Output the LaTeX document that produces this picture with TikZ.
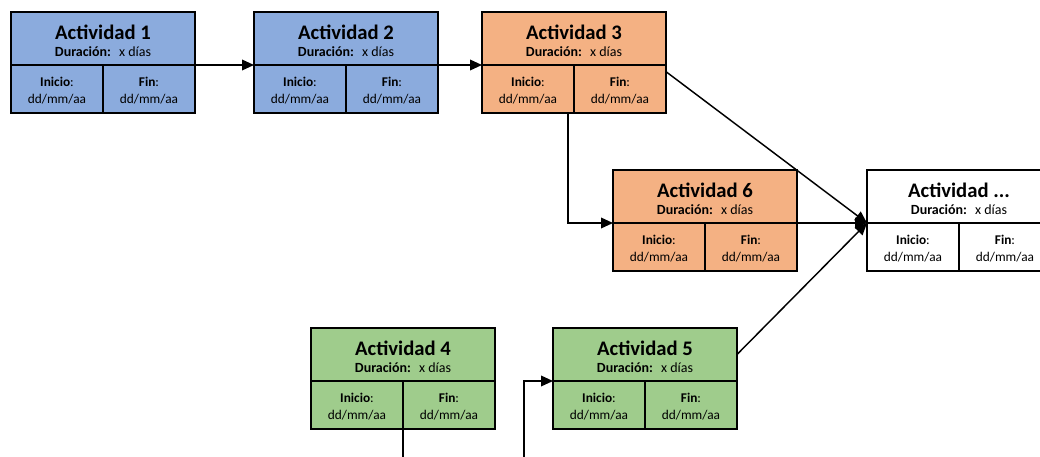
\documentclass[tikz,border=0pt]{standalone}
\usepackage{fontspec}
\setmainfont{Carlito}
\usetikzlibrary{positioning,arrows.meta}

\definecolor{azul}{HTML}{8BABDD}
\definecolor{naranja}{HTML}{F4B183}
\definecolor{verde}{HTML}{9FCC8C}

\tikzset{
  cabecera/.style = {draw, line width=1.2pt, minimum width=138pt, minimum height=39.75pt,
                     inner sep=0pt, outer sep=0pt, align=center},
  celda/.style = {draw, line width=1.2pt, minimum width=69pt, minimum height=36pt,
                  inner sep=0pt, outer sep=0pt, align=center,
                  font=\fontsize{10}{12.5}\selectfont},
  flecha/.style = {draw, line width=1.1pt, -{Triangle[length=9pt,width=8pt]}},
}

\newcommand{\actividad}[4]{%
  \node[cabecera, fill=#3, anchor=north west] (#1) at (#2)
    {\rule{0pt}{14pt}{\fontsize{15.5}{17}\selectfont\bfseries Actividad #4}\\[0.5pt]
     {\fontsize{10.5}{12}\selectfont\textbf{Duración:}\hspace{6pt}x días}};
  \node[celda, fill=#3, anchor=north west] (#1-ini) at (#1.south west)
    {\rule{0pt}{9pt}\textbf{Inicio}:\\dd/mm/aa};
  \node[celda, fill=#3, anchor=north east] (#1-fin) at (#1.south east)
    {\rule{0pt}{9pt}\textbf{Fin}:\\dd/mm/aa};
}

\begin{document}
\begin{tikzpicture}[x=0.75pt, y=-0.75pt]
  \useasboundingbox (0,0) rectangle (1040,457);

  \actividad{a1}{11,12}{azul}{1}
  \actividad{a2}{254,12}{azul}{2}
  \actividad{a3}{482,12}{naranja}{3}
  \actividad{a6}{613,170}{naranja}{6}
  \actividad{a4}{311,328}{verde}{4}
  \actividad{a5}{553,328}{verde}{5}
  \actividad{an}{867,170}{white}{...}

  % extremos que salen por abajo
  \coordinate (b4) at (a4-ini.south east |- 0,457);
  \coordinate (b5) at (524,457);

  \draw[flecha] (a1.south east) -- (a2.south west);
  \draw[flecha] (a2.south east) -- (a3.south west);
  \draw[flecha] ([xshift=-4.5pt]a3-ini.south east) |- (a6.south west);
  \draw[flecha] ([yshift=-5pt]a3.south east) -- (an.south west);
  \draw[flecha] (a6.south east) -- (an.south west);
  \draw[flecha] (a5.east) -- (an.south west);
  \draw[line width=1.1pt] (a4-ini.south east) -- (b4);
  \draw[flecha] (b5) |- (a5.south west);
\end{tikzpicture}
\end{document}
